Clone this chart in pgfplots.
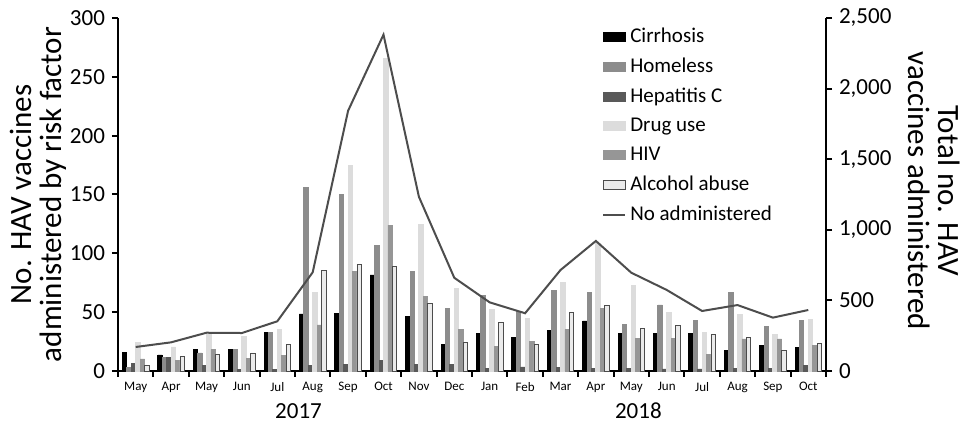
\documentclass[border=0pt]{standalone}
\usepackage{fontspec}
\setmainfont{Carlito}
\usepackage{pgfplots}
\usepackage{pgfplotstable}
\pgfplotsset{compat=1.18}
\definecolor{cirr}{HTML}{000000}
\definecolor{homeless}{HTML}{8C8C8C}
\definecolor{hepc}{HTML}{595959}
\definecolor{drug}{HTML}{DCDCDC}
\definecolor{hiv}{HTML}{969696}
\definecolor{alc}{HTML}{EBEBEB}
\definecolor{linec}{HTML}{4D4D4D}

\pgfplotstableread{
x C H HC D HIV A T
0 15.6 2.8 6.5 24.4 10.2 4.8 170
1 13.6 11.6 11.6 20.4 9.0 12.5 203
2 18.4 15.3 4.5 30.9 18.1 14.4 271
3 18.4 18.4 1.0 29.5 11.0 15.3 269
4 32.6 33.1 1.3 35.4 13.0 22.4 352
5 48.5 156 4.8 66.6 39.1 85.3 699
6 48.7 150 5.7 174.5 84.4 90.7 1843
7 81.6 107 9.0 266 124 88.6 2382
8 46.7 84.4 5.7 124.3 63.2 57.5 1234
9 22.7 53.3 5.7 70.5 35.1 24.6 660
10 31.7 64 2.3 52.4 21.2 41.4 486
11 28.6 50.4 3.4 44.5 24.9 22.4 409
12 34.6 68.2 3.1 75.4 35.1 49.6 715
13 42.5 67.1 2.3 108.5 53 55.5 921
14 31.7 39.4 2.3 72.5 28 36.5 696
15 31.7 56.1 1.7 49.6 28 38.5 574
16 31.7 43 1.7 32.6 14.4 31.4 425
17 17.8 67.1 2.3 47.9 27.2 28.6 467
18 21.8 38.2 2.3 31.4 27.2 17.6 378
19 19.8 43 4.5 43.6 21.5 23.5 432
}\data

\begin{document}
\begin{tikzpicture}
\path[use as bounding box] (-59pt,-26pt) rectangle (421pt,185.5pt);
\begin{axis}[
  at={(0pt,0pt)}, anchor=south west,
  scale only axis, width=354pt, height=176.5pt,
  xmin=-0.5, xmax=19.5, ymin=0, ymax=300,
  clip=false,
  axis x line*=bottom, axis y line*=left,
  axis line style={line width=1pt, -},
  ybar=0pt, bar width=0.125,
  xtick={0,...,19},
  xticklabels={May,Apr,May,Jun,Jul,Aug,Sep,Oct,Nov,Dec,Jan,Feb,Mar,Apr,May,Jun,Jul,Aug,Sep,Oct},
  x tick label style={font=\fontsize{6.5}{7}\selectfont, yshift=1pt},
  major x tick style={draw=none},
  minor xtick={-0.5,0.5,...,19.5},
  ytick={0,50,...,300},
  tick align=outside,
  major tick length=3pt, minor tick length=3pt,
  tick style={line width=1pt, black},
  y tick label style={font=\fontsize{11.5}{13}\selectfont},
  /pgf/number format/assume math mode=true,
  ylabel={No. HAV vaccines\\administered by risk factor},
  ylabel style={font=\fontsize{15.5}{15}\selectfont, align=center, at={(axis description cs:-0.112,0.5)}, anchor=center},
  legend image code/.code={\draw[#1] (0pt,-2.3pt) rectangle (11pt,2.3pt);},
  legend style={at={(0.675,0.995)}, anchor=north west, draw=none, fill=none,
    font=\fontsize{10.5}{12}\selectfont, row sep=2.2pt, cells={anchor=west}},
]
\addplot[fill=cirr, draw=cirr] table[x=x,y=C]{\data};
\addlegendentry{Cirrhosis}
\addplot[fill=homeless, draw=homeless] table[x=x,y=H]{\data};
\addlegendentry{Homeless}
\addplot[fill=hepc, draw=hepc] table[x=x,y=HC]{\data};
\addlegendentry{Hepatitis C}
\addplot[fill=drug, draw=drug] table[x=x,y=D]{\data};
\addlegendentry{Drug use}
\addplot[fill=hiv, draw=hiv] table[x=x,y=HIV]{\data};
\addlegendentry{HIV}
\addplot[fill=alc, draw=black!70, line width=0.3pt] table[x=x,y=A]{\data};
\addlegendentry{Alcohol abuse}
\addlegendimage{legend image code/.code={\draw[linec, line width=1pt] (0pt,0pt) -- (11pt,0pt);}}
\addlegendentry{No administered}
\node[font=\fontsize{11.5}{13}\selectfont] at (axis cs:4.6,0) [yshift=-20pt] {2017};
\node[font=\fontsize{11.5}{13}\selectfont] at (axis cs:14.2,0) [yshift=-20pt] {2018};
\end{axis}
\begin{axis}[
  at={(0pt,0pt)}, anchor=south west,
  scale only axis, width=354pt, height=176.5pt,
  xmin=-0.5, xmax=19.5, ymin=0, ymax=2500,
  axis x line=none, axis y line*=right,
  axis line style={line width=1pt, -},
  ytick={0,500,...,2500},
  scaled y ticks=false,
  tick align=outside, major tick length=3pt,
  tick style={line width=1pt, black},
  y tick label style={font=\fontsize{11.5}{13}\selectfont, /pgf/number format/1000 sep={,}},
  /pgf/number format/assume math mode=true,
  ylabel={Total no. HAV\\vaccines administered},
  ylabel style={font=\fontsize{15.5}{15}\selectfont, align=center, rotate=180, at={(axis description cs:1.153,0.51)}, anchor=center},
]
\addplot[linec, line width=1pt, mark=none] table[x=x,y=T]{\data};
\end{axis}
\end{tikzpicture}
\end{document}
